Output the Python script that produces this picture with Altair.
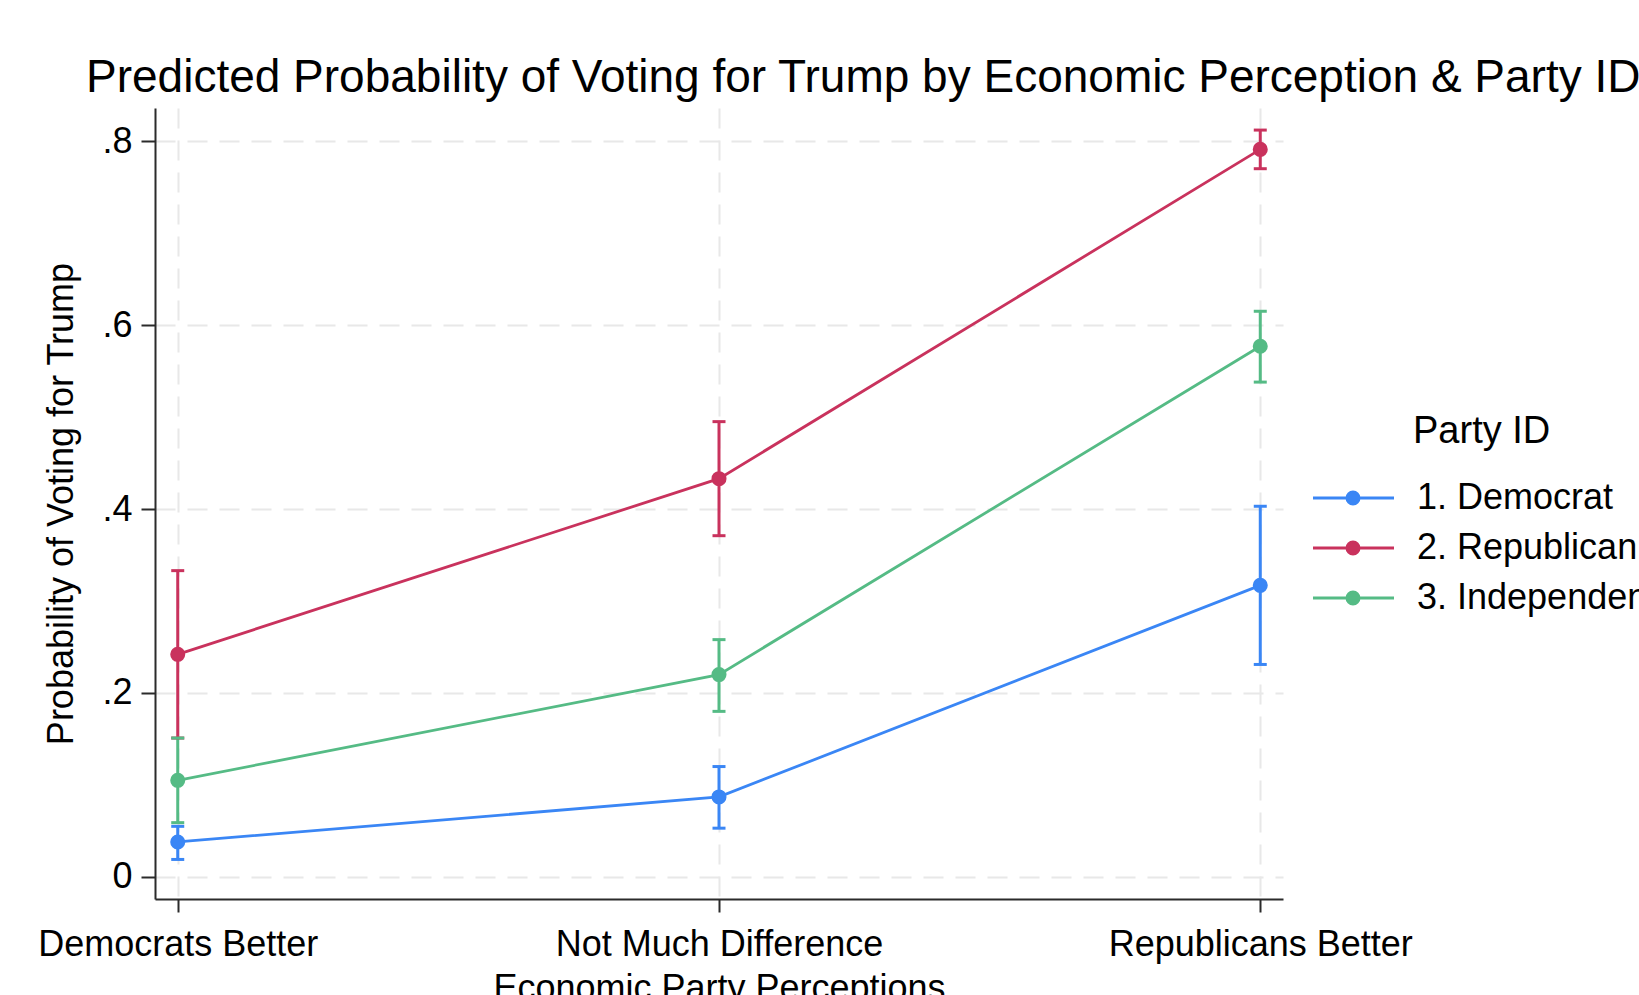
import altair as alt
import pandas as pd

# Categories
perceptions = ["Democrats Better", "Not Much Difference", "Republicans Better"]
parties = ["1. Democrat", "2. Republican", "3. Independent"]
party_colors = ["#3a86f5", "#c9325d", "#55bb85"]

# Predicted probabilities with 95% confidence limits, one list per party
dem_prob = [0.038, 0.087, 0.317]
dem_lo = [0.019, 0.053, 0.231]
dem_hi = [0.055, 0.120, 0.403]

rep_prob = [0.242, 0.433, 0.791]
rep_lo = [0.151, 0.371, 0.770]
rep_hi = [0.333, 0.495, 0.812]

ind_prob = [0.105, 0.220, 0.577]
ind_lo = [0.059, 0.180, 0.538]
ind_hi = [0.151, 0.258, 0.615]

y_ticks = [0, 0.2, 0.4, 0.6, 0.8]

rows = []
for party, hexcol, probs, los, his in zip(
    parties,
    party_colors,
    [dem_prob, rep_prob, ind_prob],
    [dem_lo, rep_lo, ind_lo],
    [dem_hi, rep_hi, ind_hi],
):
    for cat, p, lo, hi in zip(perceptions, probs, los, his):
        rows.append(
            {"perception": cat, "party": party, "hex": hexcol, "prob": p, "lo": lo, "hi": hi}
        )
df = pd.DataFrame(rows)

FONT = "Liberation Sans"
AXIS_COLOR = "#2b2b2b"
GRID_COLOR = "#e8e8e8"

x_axis = alt.Axis(
    title="Economic Party Perceptions",
    titleFontSize=36,
    titleFont=FONT,
    titleFontWeight="normal",
    titleColor="black",
    titleX=564,
    titleY=100,
    titleAlign="center",
    titleBaseline="alphabetic",
    labelFontSize=36,
    labelFont=FONT,
    labelColor="black",
    labelAngle=0,
    labelPadding=15,
    labelLimit=1000,
    labelOverlap=False,
    tickSize=13,
    tickWidth=2,
    tickColor=AXIS_COLOR,
    domainColor=AXIS_COLOR,
    domainWidth=2,
    grid=True,
    gridColor=GRID_COLOR,
    gridDash=[20, 12],
    gridWidth=2,
)

y_axis = alt.Axis(
    title="Probability of Voting for Trump",
    titleFontSize=36,
    titleFont=FONT,
    titleFontWeight="normal",
    titleColor="black",
    titleAngle=270,
    titleX=-83,
    titleY=395.5,
    titleAlign="center",
    titleBaseline="alphabetic",
    values=y_ticks,
    labelExpr="datum.value == 0 ? '0' : '.' + format(datum.value * 10, 'd')",
    labelFontSize=36,
    labelFont=FONT,
    labelColor="black",
    labelPadding=9,
    tickSize=14,
    tickWidth=2,
    tickColor=AXIS_COLOR,
    domainColor=AXIS_COLOR,
    domainWidth=2,
    grid=True,
    gridColor=GRID_COLOR,
    gridDash=[20, 12],
    gridWidth=2,
)

x_enc = alt.X(
    "perception:N",
    sort=perceptions,
    scale=alt.Scale(type="point", padding=0.042),
    axis=x_axis,
)
y_scale = alt.Scale(domain=[-0.024, 0.836], nice=False, zero=False)

party_scale = alt.Scale(domain=parties, range=party_colors)

# Legend key: a short line with a dot, drawn to the left of the label column
legend_symbol = "M-118,0H-37M-72,0A6,6,0,1,1,-84,0A6,6,0,1,1,-72,0Z"

legend = alt.Legend(
    title="Party ID",
    orient="none",
    legendX=1258,
    legendY=305,
    symbolType=legend_symbol,
    symbolSize=4,
    symbolStrokeWidth=3,
    symbolOpacity=1,
    labelFontSize=36,
    labelFont=FONT,
    labelColor="black",
    labelOffset={"expr": "-32"},
    labelLimit=1000,
    titleFontSize=38,
    titleFont=FONT,
    titleFontWeight="normal",
    titleColor="black",
    titlePadding=29,
    rowPadding=14,
    padding=0,
)

base = alt.Chart(df)

# Confidence-interval whiskers and caps (colours taken directly from the data)
ci_rule = base.mark_rule(strokeWidth=3).encode(
    x=x_enc,
    y=alt.Y("lo:Q", scale=y_scale, axis=y_axis),
    y2="hi:Q",
    stroke=alt.Stroke("hex:N", scale=None),
)

cap_lo = base.mark_tick(thickness=3, size=13, opacity=1).encode(
    x=x_enc,
    y=alt.Y("lo:Q", scale=y_scale, axis=y_axis),
    fill=alt.Fill("hex:N", scale=None),
)

cap_hi = base.mark_tick(thickness=3, size=13, opacity=1).encode(
    x=x_enc,
    y=alt.Y("hi:Q", scale=y_scale, axis=y_axis),
    fill=alt.Fill("hex:N", scale=None),
)

lines = base.mark_line(strokeWidth=2.8).encode(
    x=x_enc,
    y=alt.Y("prob:Q", scale=y_scale, axis=y_axis),
    stroke=alt.Stroke("hex:N", scale=None),
    detail="party:N",
)

# Point estimates carry the Party ID legend
points = base.mark_circle(size=170, opacity=1).encode(
    x=x_enc,
    y=alt.Y("prob:Q", scale=y_scale, axis=y_axis),
    fill=alt.Fill("party:N", scale=party_scale, legend=legend),
    stroke=alt.Stroke("party:N", scale=party_scale, legend=legend),
)

chart = (
    alt.layer(ci_rule, cap_lo, cap_hi, lines, points)
    .properties(
        width=1128,
        height=791,
        autosize=alt.AutoSizeParams(type="none"),
        padding={"left": 155, "top": 108, "right": 356, "bottom": 96},
        title=alt.Title(
            "Predicted Probability of Voting for Trump by Economic Perception & Party ID",
            anchor="start",
            frame="group",
            dx=-69,
            dy=44,
            offset=14,
            baseline="alphabetic",
            fontSize=46,
            font=FONT,
            fontWeight="normal",
            color="black",
            limit=3000,
        ),
        background="white",
    )
    .configure_view(stroke=None)
)

chart.save("out.html", embed_options={"renderer": "svg", "actions": False})
